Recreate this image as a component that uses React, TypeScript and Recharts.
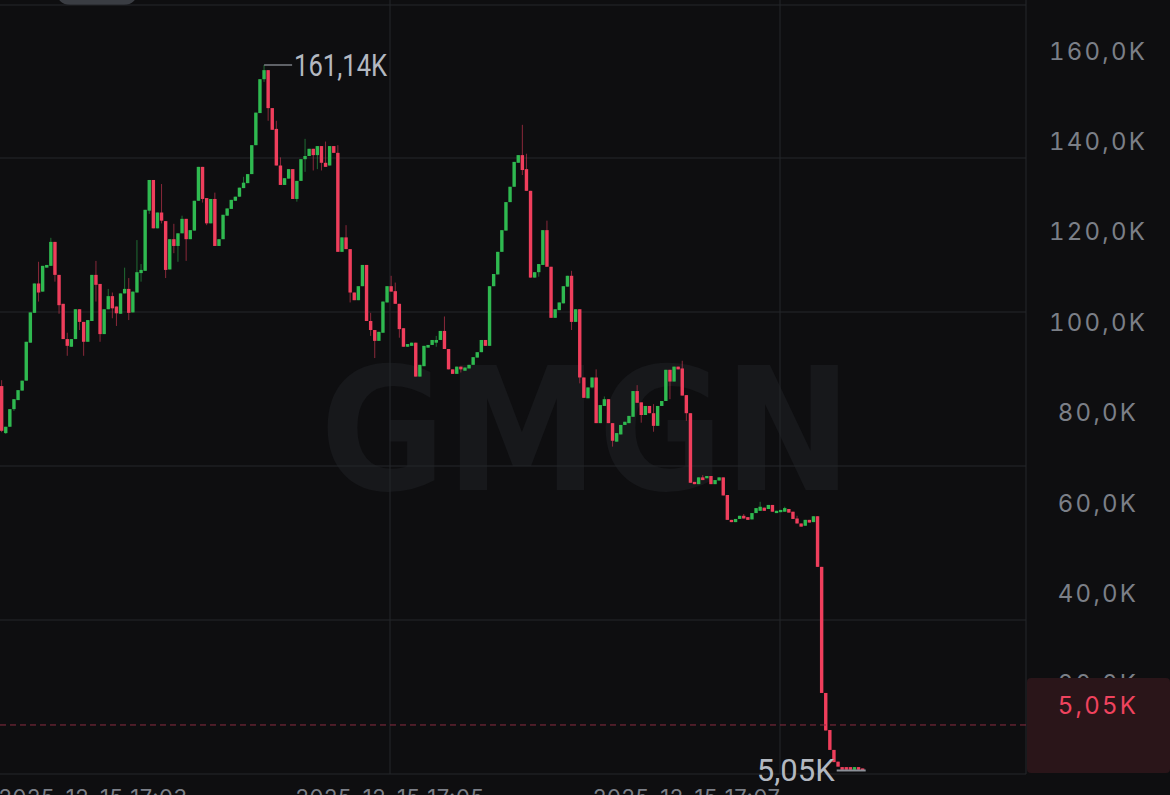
import {
  ComposedChart,
  Bar,
  XAxis,
  YAxis,
  CartesianGrid,
  ReferenceLine,
  ReferenceDot,
} from "recharts";

// candle prices in K, one entry per candle, left to right
const opens = [
  90.1, 79.7, 81.1, 85.0, 87.0, 89.1, 91.3, 99.7, 106.3, 112.8,
  111.0, 116.3, 116.7, 122.0, 114.7, 108.3, 100.5, 98.8, 100.5, 107.1,
  104.3, 99.9, 104.5, 114.7, 112.7, 101.6, 107.1, 110.0, 107.7, 106.1,
  110.6, 111.6, 106.4, 110.8, 115.1, 115.6, 128.9, 135.7, 125.0, 128.5,
  126.6, 115.9, 122.6, 121.1, 123.9, 127.1, 122.6, 124.5, 131.1, 138.6,
  131.7, 126.1, 131.5, 121.1, 122.6, 127.8, 129.3, 131.1, 132.0, 133.9,
  135.0, 137.0, 143.4, 150.5, 158.0, 160.0, 151.6, 147.0, 138.9, 134.6,
  136.0, 138.1, 131.5, 135.5, 140.3, 141.0, 142.6, 141.2, 143.2, 139.5,
  138.9, 143.2, 141.7, 119.8, 123.0, 120.4, 110.8, 109.1, 112.2, 116.9,
  104.5, 102.5, 100.1, 101.9, 108.6, 112.2, 111.1, 108.3, 102.9, 98.8,
  99.0, 99.7, 92.2, 94.5, 98.6, 99.2, 99.7, 100.3, 102.3, 98.3,
  93.8, 92.8, 94.4, 93.5, 94.0, 94.8, 96.4, 97.6, 100.3, 99.0,
  112.2, 114.8, 119.8, 124.5, 130.8, 134.2, 139.5, 141.2, 138.1, 133.3,
  114.1, 115.3, 116.9, 124.6, 116.5, 105.2, 106.9, 108.4, 112.1, 114.5,
  104.3, 107.1, 92.0, 87.4, 89.8, 92.0, 81.9, 85.7, 87.2, 81.9,
  77.8, 79.4, 81.5, 81.9, 83.3, 89.0, 86.5, 83.7, 85.7, 84.1,
  81.3, 85.7, 86.8, 93.7, 91.1, 94.4, 94.0, 88.1, 84.1, 68.9,
  68.4, 69.9, 69.7, 70.2, 68.4, 69.2, 69.9, 66.0, 60.5, 60.0,
  60.7, 61.4, 61.1, 60.6, 62.0, 62.5, 63.2, 62.9, 63.8, 62.0,
  62.2, 62.3, 62.9, 62.3, 60.8, 59.7, 59.2, 60.5, 60.0, 61.3,
  50.1, 22.2, 14.0, 9.6, 7.0, 5.8, 5.8, 5.8, 5.2, 5.8,
  5.5,
];

const highs = [
  91.4, 81.1, 85.0, 87.2, 89.2, 91.3, 99.9, 106.4, 112.8, 117.6,
  116.7, 116.9, 122.9, 122.0, 114.7, 108.3, 101.9, 100.5, 107.1, 107.1,
  104.3, 104.7, 114.7, 117.8, 112.7, 107.1, 111.6, 110.8, 107.7, 110.6,
  116.3, 114.0, 111.0, 122.4, 117.1, 129.1, 135.7, 135.7, 128.5, 134.8,
  126.6, 122.6, 126.0, 123.9, 127.8, 127.1, 124.6, 131.1, 138.6, 138.6,
  131.7, 131.5, 132.9, 122.6, 128.0, 129.4, 131.3, 132.0, 134.0, 136.4,
  137.0, 143.4, 150.6, 158.0, 161.14, 160.0, 151.6, 148.8, 140.7, 136.1,
  138.1, 138.1, 135.5, 140.3, 144.8, 142.6, 142.6, 143.2, 143.2, 144.2,
  143.2, 143.2, 143.4, 123.0, 125.7, 120.4, 110.8, 112.2, 116.9, 116.9,
  106.3, 102.5, 102.1, 108.8, 112.2, 114.5, 113.0, 108.3, 102.9, 99.4,
  99.7, 99.7, 94.8, 99.0, 99.2, 100.3, 101.2, 102.3, 105.5, 98.3,
  93.8, 94.4, 94.4, 94.2, 94.8, 96.5, 97.6, 100.3, 100.3, 112.2,
  114.9, 119.8, 124.6, 130.8, 134.2, 139.7, 141.2, 147.9, 141.5, 133.3,
  115.3, 117.1, 124.6, 126.7, 116.5, 107.1, 108.6, 112.2, 114.5, 115.6,
  107.1, 107.1, 92.0, 89.8, 92.0, 93.8, 85.9, 87.8, 87.2, 81.9,
  79.7, 81.5, 82.2, 83.5, 89.0, 90.3, 86.5, 85.7, 85.7, 86.1,
  85.7, 86.8, 93.7, 93.7, 94.4, 94.4, 95.7, 88.1, 84.1, 68.9,
  69.9, 70.4, 70.2, 70.2, 69.3, 69.9, 69.9, 66.0, 60.5, 60.7,
  61.4, 61.8, 61.1, 62.0, 63.1, 64.5, 63.2, 63.8, 63.8, 62.5,
  62.7, 63.4, 62.9, 62.3, 61.4, 59.7, 60.5, 60.5, 61.3, 61.3,
  50.1, 22.2, 14.0, 9.6, 7.0, 5.8, 5.8, 5.8, 5.8, 5.8,
  5.5,
];

const lows = [
  79.9, 79.5, 81.1, 84.6, 87.0, 89.1, 91.3, 99.7, 106.3, 108.8,
  111.0, 116.3, 116.7, 113.2, 106.1, 100.5, 96.8, 98.8, 100.5, 102.5,
  96.8, 99.9, 104.5, 108.8, 99.9, 101.6, 107.1, 105.1, 103.4, 106.1,
  110.6, 104.7, 106.4, 110.8, 113.2, 115.6, 128.2, 125.0, 125.0, 126.1,
  114.0, 115.9, 119.5, 117.6, 123.9, 117.8, 122.6, 124.5, 131.1, 130.7,
  125.7, 126.1, 121.1, 121.1, 122.6, 127.8, 129.3, 131.1, 132.0, 133.9,
  135.0, 137.0, 143.4, 150.5, 157.4, 148.8, 146.8, 138.9, 134.6, 134.6,
  136.0, 131.5, 130.9, 135.5, 137.5, 141.0, 137.8, 138.1, 137.8, 138.6,
  138.9, 141.7, 119.8, 119.8, 120.4, 108.6, 109.1, 109.1, 112.2, 104.5,
  101.2, 96.3, 100.1, 101.9, 108.6, 111.0, 108.3, 100.8, 98.8, 98.8,
  99.0, 92.2, 92.2, 94.5, 98.6, 99.2, 98.8, 100.3, 98.3, 93.8,
  92.8, 92.8, 93.1, 93.5, 94.0, 94.8, 96.4, 97.6, 99.0, 99.0,
  112.2, 114.8, 119.8, 124.5, 130.8, 134.2, 139.5, 136.8, 133.3, 114.1,
  114.1, 114.3, 116.9, 116.5, 105.2, 105.2, 106.9, 108.4, 112.1, 102.5,
  104.3, 90.7, 87.5, 87.4, 89.6, 81.9, 81.9, 85.7, 81.9, 76.7,
  77.8, 79.4, 81.5, 81.9, 83.3, 86.4, 82.0, 83.7, 84.1, 80.0,
  81.3, 85.7, 86.8, 87.2, 91.1, 93.8, 88.0, 82.4, 68.7, 68.4,
  68.4, 69.3, 69.7, 68.4, 68.4, 69.2, 65.9, 60.5, 60.0, 60.0,
  60.7, 60.8, 60.5, 60.6, 62.0, 62.5, 62.5, 62.9, 62.3, 62.0,
  62.2, 62.3, 62.1, 60.7, 59.7, 59.0, 59.2, 59.9, 60.0, 50.1,
  22.2, 13.9, 9.6, 6.9, 5.9, 5.2, 5.2, 5.2, 5.2, 5.2,
  5.05,
];

const closes = [
  80.2, 81.1, 85.0, 87.2, 89.2, 91.3, 99.9, 106.4, 112.8, 110.8,
  116.7, 116.9, 122.0, 114.7, 108.0, 100.5, 99.0, 100.5, 107.1, 104.3,
  99.9, 104.7, 114.7, 112.5, 101.6, 107.1, 110.0, 107.3, 106.2, 110.6,
  111.6, 106.3, 111.0, 115.3, 115.8, 129.1, 135.7, 125.0, 128.5, 126.7,
  115.8, 122.6, 121.1, 123.9, 127.1, 122.6, 124.6, 131.1, 138.6, 131.5,
  126.1, 131.5, 121.1, 122.6, 128.0, 129.4, 131.3, 132.0, 134.0, 135.1,
  137.0, 143.4, 150.6, 158.0, 160.0, 151.6, 146.8, 138.9, 134.6, 136.1,
  138.1, 131.5, 135.5, 140.3, 141.0, 142.6, 141.2, 143.2, 139.5, 138.6,
  143.2, 141.7, 119.8, 123.0, 120.4, 110.8, 109.1, 112.2, 116.9, 104.5,
  102.5, 100.1, 102.1, 108.8, 112.2, 111.0, 108.3, 102.7, 98.8, 99.4,
  99.7, 92.2, 94.8, 99.0, 99.2, 100.3, 100.3, 102.3, 98.3, 93.8,
  92.8, 94.4, 93.8, 94.2, 94.8, 96.5, 97.6, 100.3, 99.0, 112.2,
  114.9, 119.8, 124.6, 130.8, 134.2, 139.7, 141.2, 137.9, 133.3, 114.1,
  115.3, 117.1, 124.6, 116.5, 105.2, 107.1, 108.6, 112.2, 114.5, 104.3,
  107.1, 92.0, 87.5, 89.8, 92.0, 81.9, 85.9, 87.2, 81.9, 78.0,
  79.7, 81.5, 82.2, 83.5, 89.0, 86.4, 83.7, 85.7, 84.1, 81.3,
  85.7, 86.8, 93.7, 91.1, 94.4, 93.8, 88.0, 84.1, 68.7, 68.4,
  69.9, 69.3, 70.2, 68.4, 69.3, 69.9, 65.9, 60.5, 60.0, 60.7,
  61.4, 60.8, 60.5, 62.0, 63.1, 63.4, 62.5, 63.8, 62.3, 62.5,
  62.7, 63.1, 62.1, 60.7, 59.7, 59.0, 60.5, 59.9, 61.3, 50.1,
  22.2, 13.9, 9.6, 6.9, 5.9, 5.2, 5.2, 5.2, 5.8, 5.2,
  5.05,
];

const priceTicks = [20, 40, 60, 80, 100, 120, 140, 160];
const timeTicks = [22.3, 94.7, 167.1]; // candle index under each time label
const timeLabels = ["2025-12-15 17:03", "2025-12-15 17:05", "2025-12-15 17:07"];

const W = 1170;
const H = 795;
const AXIS_W = 144;
const AXIS_H = 21;
const X_DOMAIN: [number, number] = [-0.415, 249.83];
const Y_DOMAIN: [number, number] = [4.27, 175.52];
const LABEL_SHIFT = 19; // price labels sit a bit above their level
const PRICE_LINE_SHIFT = 45.5;

const BG = "#0e0e10";
const UP = "#2fb950";
const DOWN = "#ef3e5c";
const GRID = "#25262a";
const MUTED = "#7b7f87";

const rows = opens.map((o, i) => ({
  i,
  open: o,
  high: highs[i],
  low: lows[i],
  close: closes[i],
  range: [lows[i], highs[i]],
}));

const peakIdx = highs.indexOf(Math.max(...highs));
const lowIdx = lows.indexOf(Math.min(...lows));
const lastClose = closes[closes.length - 1];

const fmtK = (v: number, d = 1) => v.toFixed(d).replace(".", ",") + "K";

function Candle(props: any) {
  const { x, y, width, height, payload } = props;
  if (!payload) return null;
  const { open, close, high, low } = payload;
  const k = height / (high - low || 1);
  const cx = x + width / 2;
  const yOf = (v: number) => y + (high - v) * k;
  const color = close >= open ? UP : DOWN;
  const top = yOf(Math.max(open, close));
  const bh = Math.max(Math.abs(yOf(open) - yOf(close)), 2);
  return (
    <g>
      <line x1={cx} x2={cx} y1={y} y2={y + height} stroke={color} strokeOpacity={0.55} strokeWidth={1} />
      <rect x={cx - 1.7} y={top} width={3.4} height={bh} fill={color} />
    </g>
  );
}

function PriceTick(props: any) {
  const { y, payload } = props;
  return (
    <text
      x={W - AXIS_W / 2}
      y={y - LABEL_SHIFT}
      textAnchor="middle"
      dominantBaseline="central"
      fill={MUTED}
      fontSize={24}
      fontFamily="Inter"
      letterSpacing={2.2}
      style={{ fontVariantNumeric: "tabular-nums" }}
    >
      {fmtK(payload.value)}
    </text>
  );
}

function TimeTick(props: any) {
  const { x, payload } = props;
  const label = timeLabels[timeTicks.indexOf(payload.value)] ?? "";
  return (
    <text
      x={x}
      y={H - AXIS_H + 31}
      textAnchor="middle"
      fill={MUTED}
      fontSize={22}
      fontFamily="Inter"
      letterSpacing={0.6}
    >
      {label}
    </text>
  );
}

function PriceLine(p: any) {
  const y = p.y1 - PRICE_LINE_SHIFT;
  const left = Math.min(p.x1, p.x2);
  const right = Math.max(p.x1, p.x2);
  return (
    <g>
      <line x1={left} x2={right} y1={y} y2={y} stroke="#8a2c40" strokeWidth={1} strokeDasharray="6 4" />
      <rect x={right + 1} y={y - 47} width={W - right - 1} height={95} rx={4} fill="#2a1519" />
      <text
        x={right + AXIS_W / 2}
        y={y - LABEL_SHIFT}
        textAnchor="middle"
        dominantBaseline="central"
        fill="#f0435e"
        fontSize={24}
        fontFamily="Inter"
        letterSpacing={2.2}
        style={{ fontVariantNumeric: "tabular-nums" }}
      >
        {fmtK(lastClose, 2)}
      </text>
    </g>
  );
}

function PeakMark(p: any) {
  const { cx, cy } = p;
  return (
    <g>
      <line x1={cx} x2={cx + 28} y1={cy} y2={cy} stroke="#8b9098" strokeWidth={1.3} />
      <text
        x={cx + 30}
        y={cy + 1}
        dominantBaseline="central"
        fill="#b3b8c0"
        fontSize={31}
        fontFamily="Roboto"
        textLength={93}
        lengthAdjust="spacingAndGlyphs"
      >
        {fmtK(highs[peakIdx], 2)}
      </text>
    </g>
  );
}

function LowMark(p: any) {
  const { cx, cy } = p;
  return (
    <g>
      <line x1={cx - 26} x2={cx + 3} y1={cy} y2={cy} stroke="#8b9098" strokeWidth={2} />
      <text
        x={cx - 28}
        y={cy}
        textAnchor="end"
        dominantBaseline="central"
        fill="#b3b8c0"
        fontSize={31}
        fontFamily="Roboto"
        textLength={78}
        lengthAdjust="spacingAndGlyphs"
      >
        {fmtK(lows[lowIdx], 2)}
      </text>
    </g>
  );
}

export default function App() {
  return (
    <div style={{ position: "absolute", left: 0, top: 0, width: W, height: H, overflow: "hidden", background: BG }}>
      <svg width={W} height={H} style={{ position: "absolute", left: 0, top: 0 }}>
        <rect x={56} y={-26} width={82} height={31} rx={14} fill="#3a3d43" />
        <text
          x={320}
          y={490}
          fontSize={171}
          fontWeight={900}
          fontFamily="DejaVu Sans"
          fill="#17181b"
          textLength={532}
          lengthAdjust="spacingAndGlyphs"
        >
          GMGN
        </text>
      </svg>
      <div style={{ position: "absolute", left: 0, top: 0 }}>
        <ComposedChart width={W} height={H} data={rows} margin={{ top: 0, right: 0, bottom: 0, left: 0 }}>
          <CartesianGrid stroke={GRID} horizontalPoints={[5, 158, 312, 466, 620]} verticalPoints={[390, 780]} />
          <XAxis
            type="number"
            dataKey="i"
            domain={X_DOMAIN}
            allowDataOverflow
            ticks={timeTicks}
            interval={0}
            tick={<TimeTick />}
            tickLine={false}
            axisLine={{ stroke: GRID }}
            height={AXIS_H}
          />
          <YAxis
            orientation="right"
            type="number"
            domain={Y_DOMAIN}
            allowDataOverflow
            ticks={priceTicks}
            interval={0}
            tick={<PriceTick />}
            tickLine={false}
            axisLine={{ stroke: GRID }}
            width={AXIS_W}
          />
          <Bar dataKey="range" barSize={4} shape={(p: any) => <Candle {...p} />} isAnimationActive={false} />
          <ReferenceLine y={lastClose} zIndex={2500} shape={(p: any) => <PriceLine {...p} />} />
          <ReferenceDot x={peakIdx} y={highs[peakIdx]} shape={(p: any) => <PeakMark {...p} />} />
          <ReferenceDot x={lowIdx} y={lows[lowIdx]} shape={(p: any) => <LowMark {...p} />} />
        </ComposedChart>
      </div>
    </div>
  );
}
